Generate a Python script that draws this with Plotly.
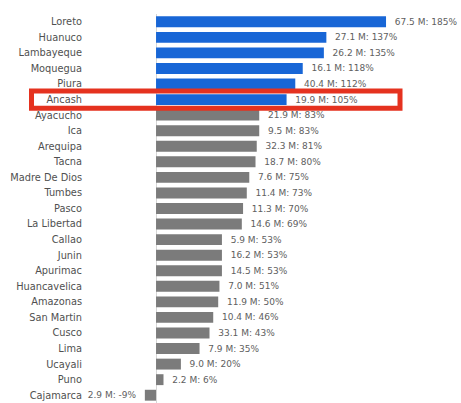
import plotly.graph_objects as go

regions = ["Loreto", "Huanuco", "Lambayeque", "Moquegua", "Piura", "Ancash",
           "Ayacucho", "Ica", "Arequipa", "Tacna", "Madre De Dios", "Tumbes",
           "Pasco", "La Libertad", "Callao", "Junin", "Apurimac", "Huancavelica",
           "Amazonas", "San Martin", "Cusco", "Lima", "Ucayali", "Puno", "Cajamarca"]
amounts_m = [67.5, 27.1, 26.2, 16.1, 40.4, 19.9,
             21.9, 9.5, 32.3, 18.7, 7.6, 11.4,
             11.3, 14.6, 5.9, 16.2, 14.5, 7.0,
             11.9, 10.4, 33.1, 7.9, 9.0, 2.2, 2.9]
pct = [185, 137, 135, 118, 112, 105,
       83, 83, 81, 80, 75, 73,
       70, 69, 53, 53, 53, 51,
       50, 46, 43, 35, 20, 6, -9]
n_highlight = 6
highlight_region = "Ancash"

BLUE = "#1866d6"
GRAY = "#7b7b7b"
colors = [BLUE if i < n_highlight else GRAY for i in range(len(regions))]
pad = "\u00a0\u00a0"
texts = [(pad + f"{a:.1f} M: {p}%") if p >= 0 else (f"{a:.1f} M: {p}%" + pad)
         for a, p in zip(amounts_m, pct)]

fig = go.Figure(go.Bar(
    y=regions, x=pct, orientation="h",
    marker=dict(color=colors, line=dict(width=0)),
    text=texts, textposition="outside", textangle=0,
    outsidetextfont=dict(family="DejaVu Sans", size=9, color="#606060"),
    cliponaxis=False, hoverinfo="skip",
))

hi = regions.index(highlight_region)
fig.add_shape(type="rect", xref="paper", yref="y",
              x0=-0.338, x1=0.81, y0=hi - 0.55, y1=hi + 0.55,
              line=dict(color="#e5321f", width=5), fillcolor="rgba(0,0,0,0)",
              layer="above")

fig.update_layout(
    width=461, height=403,
    margin=dict(l=140, r=0, t=14, b=0),
    paper_bgcolor="white", plot_bgcolor="white",
    bargap=0.3, showlegend=False,
    xaxis=dict(range=[-12.9, 245.3], showgrid=False, showticklabels=False,
               zeroline=True, zerolinecolor="#d6d6d6", zerolinewidth=1,
               fixedrange=True),
    yaxis=dict(autorange="reversed", showgrid=False, ticks="",
               ticklabelstandoff=57,
               tickfont=dict(family="DejaVu Sans", size=9.8, color="#505050"),
               fixedrange=True),
)

fig.write_html("out.html")
